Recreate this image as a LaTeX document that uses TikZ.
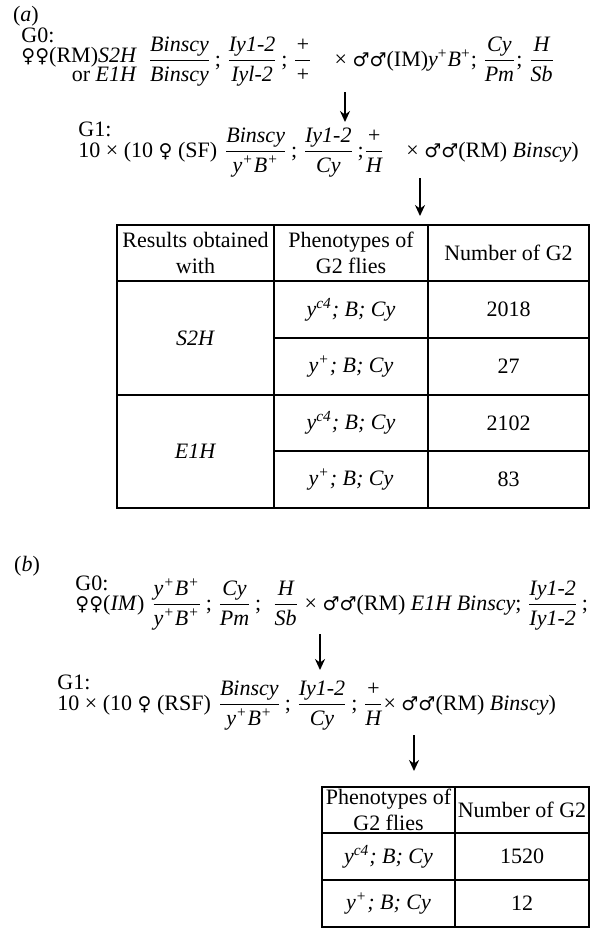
\documentclass[tikz,border=0pt]{standalone}
\usepackage{fontspec}
\setmainfont{Liberation Serif}
\newfontfamily\simboli{DejaVu Sans}
\usepackage{amsmath}
\usepackage{tikz}
\usetikzlibrary{arrows.meta, positioning}

\newcommand{\gfrac}[2]{$\dfrac{\textit{#1}}{\textit{#2}}$}
\newcommand{\femm}{{\simboli\fontsize{9.5}{11}\selectfont ♀}}
\newcommand{\masc}{{\simboli\fontsize{9.5}{11}\selectfont ♂}}

\tikzset{
  freccia/.style={-{Stealth[length=5.5pt,width=5pt]}, line width=0.9pt},
  griglia/.style={line width=0.7pt},
  cella/.style={inner sep=0pt, align=center},
  riga/.style={anchor=base west, inner sep=0pt},
}

\begin{document}
\begin{tikzpicture}[x=0.5pt, y=-0.5pt, font=\fontsize{11}{13}\selectfont]
    \useasboundingbox (0,0) rectangle (597,944);

    % Incrocio (a)
    \node (labA) at (26,16) {(\textit{a})};
    \node[riga] (gen0A) at (21,42) {G0:};
    \node[riga] (femA) at (21,62) {\femm\femm(RM)\textit{S2H}};
    \node[anchor=base east, inner sep=0pt] (orA) at ([yshift=-9.5pt]femA.base east) {or \textit{E1H}};
    \node[riga, xshift=5pt, yshift=-2pt] (crossA) at (femA.base east)
        {\gfrac{Binscy}{Binscy}\,; \gfrac{Iy1-2}{Iyl-2}\,; \gfrac{+}{+}\quad× \masc\masc(IM)\textit{y}\textsuperscript{+}\textit{B}\textsuperscript{+}; \gfrac{Cy}{Pm}; \gfrac{H}{Sb}};

    \coordinate (a1s) at (345,92);
    \coordinate (a1e) at (345,122);
    \draw[freccia] (a1s) -- (a1e);

    \node[riga] (gen1A) at (78,136) {G1:};
    \node[riga] (femA1) at (78,157) {10 × (10 \femm\ (SF)};
    \node[riga, xshift=3pt] (crossA1) at (femA1.base east)
        {\gfrac{Binscy}{y\textsuperscript{+}B\textsuperscript{+}}\,; \gfrac{Iy1-2}{Cy}\,;\gfrac{+}{H}\quad× \masc\masc(RM) \textit{Binscy})};

    \coordinate (a2s) at (420,178);
    \coordinate (a2e) at (420,216);
    \draw[freccia] (a2s) -- (a2e);

    % Tabella (a)
    \draw[griglia] (117,225) rectangle (589,508);
    \draw[griglia] (274,225) -- (274,508);
    \draw[griglia] (428,225) -- (428,508);
    \draw[griglia] (117,281) -- (589,281);
    \draw[griglia] (117,395) -- (589,395);
    \foreach \y in {338,451} \draw[griglia] (274,\y) -- (589,\y);

    \node[cella] (hA1) at (195.5,253) {Results obtained\\with};
    \node[cella] (hA2) at (351,253) {Phenotypes of\\G2 flies};
    \node[cella] (hA3) at (508.5,253) {Number of G2};
    \node[cella] (gS2H) at (195.5,338) {\textit{S2H}};
    \node[cella] (gE1H) at (195.5,451) {\textit{E1H}};
    \foreach \y/\s/\n in {309.5/c4/2018, 366.5/+/27, 423/c4/2102, 479.5/+/83} {
        \node[cella] (fA\n) at (351,\y) {\textit{y\textsuperscript{\s}; B; Cy}};
        \node[cella] (nA\n) at (508.5,\y) {\n};
    }

    % Incrocio (b)
    \node (labB) at (27,566) {(\textit{b})};
    \node[riga] (gen0B) at (75,590) {G0:};
    \node[riga] (femB) at (75,610) {\femm\femm(\textit{IM})};
    \node[riga, xshift=3pt] (crossB) at (femB.base east)
        {\gfrac{y\textsuperscript{+}B\textsuperscript{+}}{y\textsuperscript{+}B\textsuperscript{+}}\,; \gfrac{Cy}{Pm}\,; \ \gfrac{H}{Sb} × \masc\masc(RM) \textit{E1H Binscy}; \gfrac{Iy1-2}{Iy1-2}\,;};

    \coordinate (b1s) at (320,634);
    \coordinate (b1e) at (320,670);
    \draw[freccia] (b1s) -- (b1e);

    \node[riga] (gen1B) at (57,689) {G1:};
    \node[riga] (femB1) at (57,710) {10 × (10 \femm\ (RSF)};
    \node[riga, xshift=3pt] (crossB1) at (femB1.base east)
        {\gfrac{Binscy}{y\textsuperscript{+}B\textsuperscript{+}}\,; \gfrac{Iy1-2}{Cy}\,; \gfrac{+}{H}× \masc\masc(RM) \textit{Binscy})};

    \coordinate (b2s) at (414,735);
    \coordinate (b2e) at (414,771);
    \draw[freccia] (b2s) -- (b2e);

    % Tabella (b)
    \draw[griglia] (322,787) rectangle (589,927);
    \draw[griglia] (455,787) -- (455,927);
    \foreach \y in {833,880} \draw[griglia] (322,\y) -- (589,\y);

    \node[cella] (hB1) at (388.5,810) {Phenotypes of\\G2 flies};
    \node[cella] (hB2) at (522,810) {Number of G2};
    \foreach \y/\s/\n in {856.5/c4/1520, 903.5/+/12} {
        \node[cella] (fB\n) at (388.5,\y) {\textit{y\textsuperscript{\s}; B; Cy}};
        \node[cella] (nB\n) at (522,\y) {\n};
    }
\end{tikzpicture}
\end{document}
